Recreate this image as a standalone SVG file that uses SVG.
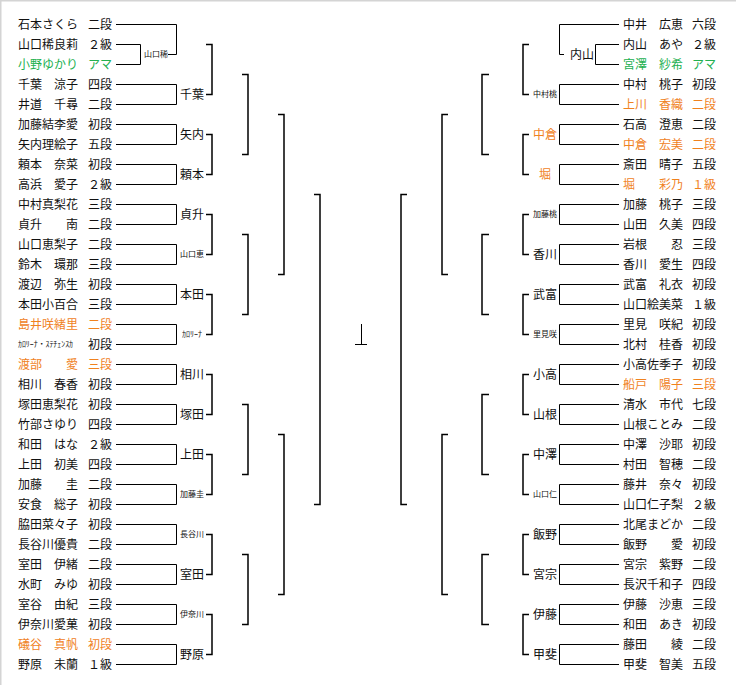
<svg xmlns="http://www.w3.org/2000/svg" width="736" height="685" viewBox="0 0 736 685">
<style>
text{font-family:"Noto Sans CJK JP","Noto Sans",sans-serif;fill:#111}
.n{font-size:12px}
.s{font-size:8px}
.m{text-anchor:middle}
.o{fill:#f0821e}
.g{fill:#22b050}
.c{fill:none;stroke:#000;stroke-width:1}
.b{fill:none;stroke:#000;stroke-width:1.5}
</style>
<rect x="0" y="0" width="736" height="685" fill="#fff"/>
<path d="M0 0.75H736M0.75 0V685" stroke="#d4d4d4" stroke-width="1.5" fill="none"/>
<g id="connectors">
<path class="c" d="M116 44.5H140.5V64.5H116M168 54.5H176.5M116 24.5H176.5V54.5"/>
<path class="c" d="M116 84.5H176.5V104.5H116M116 124.5H176.5V144.5H116M116 164.5H176.5V184.5H116M116 204.5H176.5V224.5H116M116 244.5H176.5V264.5H116M116 284.5H176.5V304.5H116M116 324.5H176.5V344.5H116M116 364.5H176.5V384.5H116M116 404.5H176.5V424.5H116M116 444.5H176.5V464.5H116M116 484.5H176.5V504.5H116M116 524.5H176.5V544.5H116M116 564.5H176.5V584.5H116M116 604.5H176.5V624.5H116M116 644.5H176.5V664.5H116"/>
<path class="b" d="M206 44.5H212V94.5H206M206 134.5H212V174.5H206M206 214.5H212V254.5H206M206 294.5H212V334.5H206M206 374.5H212V414.5H206M206 454.5H212V494.5H206M206 534.5H212V574.5H206M206 614.5H212V654.5H206"/>
<path class="b" d="M242 74.5H248V154.5H242M242 234.5H248V314.5H242M242 404.5H248V474.5H242M242 554.5H248V624.5H242"/>
<path class="b" d="M278 114.5H284V274.5H278M278 434.5H284V594.5H278"/>
<path class="b" d="M314 194.5H320V504.5H314"/>
<path class="c" d="M361.5 324V344.5M355 344.5H367"/>
<path class="b" d="M407 194.5H401V504.5H407"/>
<path class="b" d="M448 114.5H442V274.5H448M448 434.5H442V594.5H448"/>
<path class="b" d="M489 74.5H482V154.5H489M489 234.5H482V314.5H489M489 394.5H482V474.5H489M489 554.5H482V624.5H489"/>
<path class="b" d="M529 44.5H523V94.5H529M529 134.5H523V174.5H529M529 214.5H523V254.5H529M529 294.5H523V334.5H529M529 374.5H523V414.5H529M529 454.5H523V494.5H529M529 534.5H523V574.5H529M529 614.5H523V654.5H529"/>
<path class="c" d="M619 44.5H595.5V64.5H619M564 54.5H559.5M619 24.5H559.5V54.5"/>
<path class="c" d="M619 84.5H559.5V104.5H619M619 124.5H559.5V144.5H619M619 164.5H559.5V184.5H619M619 204.5H559.5V224.5H619M619 244.5H559.5V264.5H619M619 284.5H559.5V304.5H619M619 324.5H559.5V344.5H619M619 364.5H559.5V384.5H619M619 404.5H559.5V424.5H619M619 444.5H559.5V464.5H619M619 484.5H559.5V504.5H619M619 524.5H559.5V544.5H619M619 564.5H559.5V584.5H619M619 604.5H559.5V624.5H619M619 644.5H559.5V664.5H619"/>
</g>
<g id="left-entries" class="n">
<g id="L00"><text x="18" y="28.5">石本さくら</text><text x="88" y="28.5">二段</text></g>
<g id="L01"><text x="18" y="48.5">山口稀良莉</text><text x="88" y="48.5">２級</text></g>
<g id="L02"><text class="g" x="18" y="68.5">小野ゆかり</text><text class="g" x="88" y="68.5">アマ</text></g>
<g id="L03"><text x="18" y="88.5">千葉　涼子</text><text x="88" y="88.5">四段</text></g>
<g id="L04"><text x="18" y="108.5">井道　千尋</text><text x="88" y="108.5">二段</text></g>
<g id="L05"><text x="18" y="128.5">加藤結李愛</text><text x="88" y="128.5">初段</text></g>
<g id="L06"><text x="18" y="148.5">矢内理絵子</text><text x="88" y="148.5">五段</text></g>
<g id="L07"><text x="18" y="168.5">頼本　奈菜</text><text x="88" y="168.5">初段</text></g>
<g id="L08"><text x="18" y="188.5">高浜　愛子</text><text x="88" y="188.5">２級</text></g>
<g id="L09"><text x="18" y="208.5">中村真梨花</text><text x="88" y="208.5">三段</text></g>
<g id="L10"><text x="18" y="228.5">貞升　　南</text><text x="88" y="228.5">二段</text></g>
<g id="L11"><text x="18" y="248.5">山口恵梨子</text><text x="88" y="248.5">二段</text></g>
<g id="L12"><text x="18" y="268.5">鈴木　環那</text><text x="88" y="268.5">三段</text></g>
<g id="L13"><text x="18" y="288.5">渡辺　弥生</text><text x="88" y="288.5">初段</text></g>
<g id="L14"><text x="18" y="308.5">本田小百合</text><text x="88" y="308.5">三段</text></g>
<g id="L15"><text class="o" x="18" y="328.5">島井咲緒里</text><text class="o" x="88" y="328.5">二段</text></g>
<g id="L16"><text class="s" x="18" y="347" textLength="55" lengthAdjust="spacingAndGlyphs">ｶﾛﾘｰﾅ・ｽﾃﾁｪﾝｽｶ</text><text x="88" y="348.5">初段</text></g>
<g id="L17"><text class="o" x="18" y="368.5">渡部　　愛</text><text class="o" x="88" y="368.5">三段</text></g>
<g id="L18"><text x="18" y="388.5">相川　春香</text><text x="88" y="388.5">初段</text></g>
<g id="L19"><text x="18" y="408.5">塚田恵梨花</text><text x="88" y="408.5">初段</text></g>
<g id="L20"><text x="18" y="428.5">竹部さゆり</text><text x="88" y="428.5">四段</text></g>
<g id="L21"><text x="18" y="448.5">和田　はな</text><text x="88" y="448.5">２級</text></g>
<g id="L22"><text x="18" y="468.5">上田　初美</text><text x="88" y="468.5">四段</text></g>
<g id="L23"><text x="18" y="488.5">加藤　　圭</text><text x="88" y="488.5">二段</text></g>
<g id="L24"><text x="18" y="508.5">安食　総子</text><text x="88" y="508.5">初段</text></g>
<g id="L25"><text x="18" y="528.5">脇田菜々子</text><text x="88" y="528.5">初段</text></g>
<g id="L26"><text x="18" y="548.5">長谷川優貴</text><text x="88" y="548.5">二段</text></g>
<g id="L27"><text x="18" y="568.5">室田　伊緒</text><text x="88" y="568.5">二段</text></g>
<g id="L28"><text x="18" y="588.5">水町　みゆ</text><text x="88" y="588.5">初段</text></g>
<g id="L29"><text x="18" y="608.5">室谷　由紀</text><text x="88" y="608.5">三段</text></g>
<g id="L30"><text x="18" y="628.5">伊奈川愛菓</text><text x="88" y="628.5">初段</text></g>
<g id="L31"><text class="o" x="18" y="648.5">礒谷　真帆</text><text class="o" x="88" y="648.5">初段</text></g>
<g id="L32"><text x="18" y="668.5">野原　未蘭</text><text x="88" y="668.5">１級</text></g>
</g>
<g id="left-winners" class="m">
<g id="LW0"><text class="s m" x="156" y="57">山口稀</text></g>
<g id="LW1"><text class="n m" x="192" y="98.5">千葉</text></g>
<g id="LW2"><text class="n m" x="192" y="138.5">矢内</text></g>
<g id="LW3"><text class="n m" x="192" y="178.5">頼本</text></g>
<g id="LW4"><text class="n m" x="192" y="218.5">貞升</text></g>
<g id="LW5"><text class="s m" x="192" y="257">山口恵</text></g>
<g id="LW6"><text class="n m" x="192" y="298.5">本田</text></g>
<g id="LW7"><text class="s m" x="192" y="337">ｶﾛﾘｰﾅ</text></g>
<g id="LW8"><text class="n m" x="192" y="378.5">相川</text></g>
<g id="LW9"><text class="n m" x="192" y="418.5">塚田</text></g>
<g id="LW10"><text class="n m" x="192" y="458.5">上田</text></g>
<g id="LW11"><text class="s m" x="192" y="497">加藤圭</text></g>
<g id="LW12"><text class="s m" x="192" y="537">長谷川</text></g>
<g id="LW13"><text class="n m" x="192" y="578.5">室田</text></g>
<g id="LW14"><text class="s m" x="192" y="617">伊奈川</text></g>
<g id="LW15"><text class="n m" x="192" y="658.5">野原</text></g>
</g>
<g id="right-entries" class="n">
<g id="R00"><text x="623" y="28.5">中井　広恵</text><text x="692" y="28.5">六段</text></g>
<g id="R01"><text x="623" y="48.5">内山　あや</text><text x="692" y="48.5">２級</text></g>
<g id="R02"><text class="g" x="623" y="68.5">宮澤　紗希</text><text class="g" x="692" y="68.5">アマ</text></g>
<g id="R03"><text x="623" y="88.5">中村　桃子</text><text x="692" y="88.5">初段</text></g>
<g id="R04"><text class="o" x="623" y="108.5">上川　香織</text><text class="o" x="692" y="108.5">二段</text></g>
<g id="R05"><text x="623" y="128.5">石高　澄恵</text><text x="692" y="128.5">二段</text></g>
<g id="R06"><text class="o" x="623" y="148.5">中倉　宏美</text><text class="o" x="692" y="148.5">二段</text></g>
<g id="R07"><text x="623" y="168.5">斎田　晴子</text><text x="692" y="168.5">五段</text></g>
<g id="R08"><text class="o" x="623" y="188.5">堀　　彩乃</text><text class="o" x="692" y="188.5">１級</text></g>
<g id="R09"><text x="623" y="208.5">加藤　桃子</text><text x="692" y="208.5">三段</text></g>
<g id="R10"><text x="623" y="228.5">山田　久美</text><text x="692" y="228.5">四段</text></g>
<g id="R11"><text x="623" y="248.5">岩根　　忍</text><text x="692" y="248.5">三段</text></g>
<g id="R12"><text x="623" y="268.5">香川　愛生</text><text x="692" y="268.5">四段</text></g>
<g id="R13"><text x="623" y="288.5">武富　礼衣</text><text x="692" y="288.5">初段</text></g>
<g id="R14"><text x="623" y="308.5">山口絵美菜</text><text x="692" y="308.5">１級</text></g>
<g id="R15"><text x="623" y="328.5">里見　咲紀</text><text x="692" y="328.5">初段</text></g>
<g id="R16"><text x="623" y="348.5">北村　桂香</text><text x="692" y="348.5">初段</text></g>
<g id="R17"><text x="623" y="368.5">小高佐季子</text><text x="692" y="368.5">初段</text></g>
<g id="R18"><text class="o" x="623" y="388.5">船戸　陽子</text><text class="o" x="692" y="388.5">三段</text></g>
<g id="R19"><text x="623" y="408.5">清水　市代</text><text x="692" y="408.5">七段</text></g>
<g id="R20"><text x="623" y="428.5">山根ことみ</text><text x="692" y="428.5">二段</text></g>
<g id="R21"><text x="623" y="448.5">中澤　沙耶</text><text x="692" y="448.5">初段</text></g>
<g id="R22"><text x="623" y="468.5">村田　智穂</text><text x="692" y="468.5">二段</text></g>
<g id="R23"><text x="623" y="488.5">藤井　奈々</text><text x="692" y="488.5">初段</text></g>
<g id="R24"><text x="623" y="508.5">山口仁子梨</text><text x="692" y="508.5">２級</text></g>
<g id="R25"><text x="623" y="528.5">北尾まどか</text><text x="692" y="528.5">二段</text></g>
<g id="R26"><text x="623" y="548.5">飯野　　愛</text><text x="692" y="548.5">初段</text></g>
<g id="R27"><text x="623" y="568.5">宮宗　紫野</text><text x="692" y="568.5">二段</text></g>
<g id="R28"><text x="623" y="588.5">長沢千和子</text><text x="692" y="588.5">四段</text></g>
<g id="R29"><text x="623" y="608.5">伊藤　沙恵</text><text x="692" y="608.5">三段</text></g>
<g id="R30"><text x="623" y="628.5">和田　あき</text><text x="692" y="628.5">初段</text></g>
<g id="R31"><text x="623" y="648.5">藤田　　綾</text><text x="692" y="648.5">二段</text></g>
<g id="R32"><text x="623" y="668.5">甲斐　智美</text><text x="692" y="668.5">五段</text></g>
</g>
<g id="right-winners">
<g id="RW0"><text class="n m" x="582" y="58.5">内山</text></g>
<g id="RW1"><text class="s m" x="545" y="97">中村桃</text></g>
<g id="RW2"><text class="n m o" x="545" y="138.5">中倉</text></g>
<g id="RW3"><text class="n m o" x="545" y="178.5">堀</text></g>
<g id="RW4"><text class="s m" x="545" y="217">加藤桃</text></g>
<g id="RW5"><text class="n m" x="545" y="258.5">香川</text></g>
<g id="RW6"><text class="n m" x="545" y="298.5">武富</text></g>
<g id="RW7"><text class="s m" x="545" y="337">里見咲</text></g>
<g id="RW8"><text class="n m" x="545" y="378.5">小高</text></g>
<g id="RW9"><text class="n m" x="545" y="418.5">山根</text></g>
<g id="RW10"><text class="n m" x="545" y="458.5">中澤</text></g>
<g id="RW11"><text class="s m" x="545" y="497">山口仁</text></g>
<g id="RW12"><text class="n m" x="545" y="538.5">飯野</text></g>
<g id="RW13"><text class="n m" x="545" y="578.5">宮宗</text></g>
<g id="RW14"><text class="n m" x="545" y="618.5">伊藤</text></g>
<g id="RW15"><text class="n m" x="545" y="658.5">甲斐</text></g>
</g>
</svg>
